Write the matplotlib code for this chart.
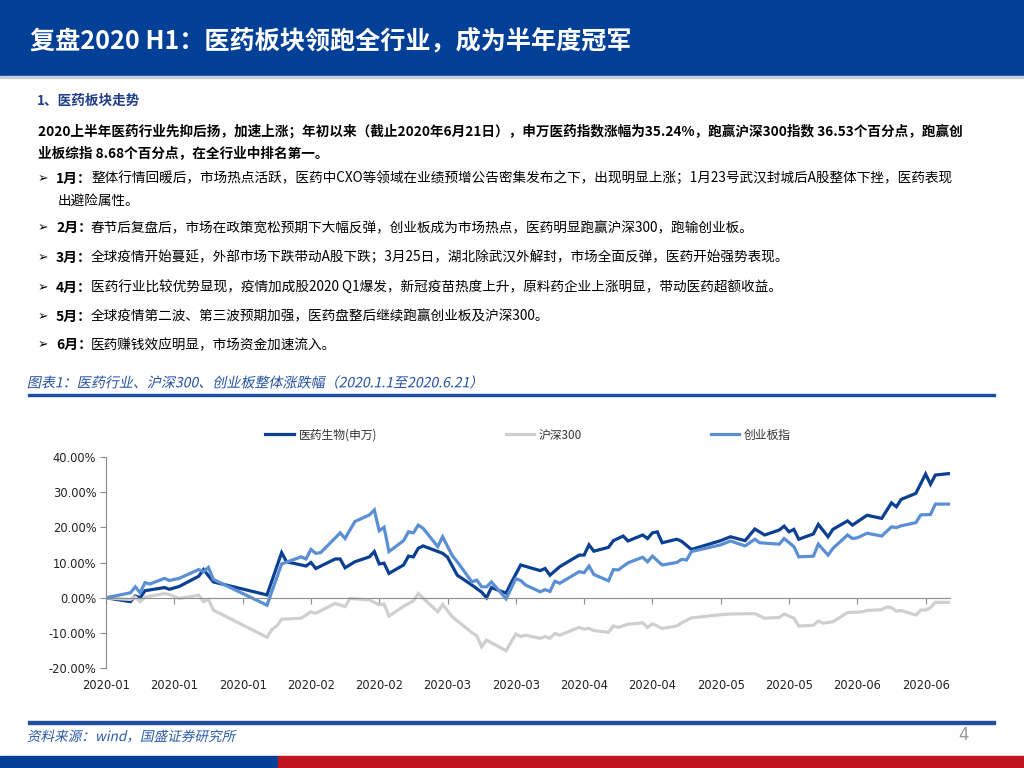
import matplotlib
matplotlib.use("Agg")
import matplotlib.pyplot as plt
import matplotlib.dates as mdates
from matplotlib.ticker import FuncFormatter, FixedLocator
from matplotlib.patches import Rectangle, PathPatch
from matplotlib.textpath import TextPath
from matplotlib.font_manager import FontProperties
from matplotlib.transforms import Affine2D
import pandas as pd

plt.rcParams['font.family'] = ['Noto Sans CJK SC', 'DejaVu Sans']

# ----------- DATA -----------
pharma_dates = ["2020-01-01", "2020-01-06", "2020-01-07", "2020-01-08", "2020-01-09", "2020-01-13",
                "2020-01-14", "2020-01-16", "2020-01-20", "2020-01-21", "2020-01-23", "2020-02-03",
                "2020-02-06", "2020-02-07", "2020-02-11", "2020-02-12", "2020-02-13", "2020-02-17",
                "2020-02-18", "2020-02-19", "2020-02-21", "2020-02-24", "2020-02-25", "2020-02-26",
                "2020-02-27", "2020-02-28", "2020-03-02", "2020-03-03", "2020-03-04", "2020-03-05",
                "2020-03-06", "2020-03-10", "2020-03-11", "2020-03-13", "2020-03-16", "2020-03-18",
                "2020-03-19", "2020-03-20", "2020-03-23", "2020-03-24", "2020-03-26", "2020-03-30",
                "2020-03-31", "2020-04-01", "2020-04-03", "2020-04-07", "2020-04-08", "2020-04-09",
                "2020-04-10", "2020-04-13", "2020-04-14", "2020-04-16", "2020-04-17", "2020-04-20",
                "2020-04-21", "2020-04-22", "2020-04-23", "2020-04-24", "2020-04-27", "2020-04-28",
                "2020-04-30", "2020-05-06", "2020-05-08", "2020-05-11", "2020-05-13", "2020-05-15",
                "2020-05-18", "2020-05-19", "2020-05-20", "2020-05-21", "2020-05-22", "2020-05-25",
                "2020-05-26", "2020-05-28", "2020-05-29", "2020-06-01", "2020-06-02", "2020-06-05",
                "2020-06-08", "2020-06-10", "2020-06-11", "2020-06-12", "2020-06-15", "2020-06-17",
                "2020-06-18", "2020-06-19", "2020-06-22"]
pharma_vals = [0.0, -1.1, 0.5, 0.0, 2.0, 2.9,
               2.4, 3.2, 6.1, 8.0, 4.5, 0.8,
               12.8, 10.2, 9.0, 10.0, 8.3, 11.0,
               11.0, 8.5, 10.2, 11.6, 13.1, 9.6,
               9.8, 6.9, 9.3, 11.8, 11.6, 14.0,
               14.7, 12.6, 11.5, 6.4, 3.6, 1.6,
               0.0, 2.9, 1.3, 4.1, 9.3, 7.7,
               8.3, 6.4, 8.8, 12.1, 12.1, 15.0,
               13.2, 14.3, 16.2, 17.5, 16.1, 17.8,
               16.8, 18.4, 18.7, 15.6, 16.6, 16.0,
               13.7, 16.2, 17.3, 16.2, 19.5, 17.8,
               19.2, 20.3, 18.7, 19.4, 16.6, 18.1,
               20.8, 17.3, 19.4, 21.8, 20.6, 23.4,
               22.5, 26.9, 25.8, 27.9, 29.6, 35.1,
               32.2, 34.8, 35.24]

hs300_dates = ["2020-01-01", "2020-01-06", "2020-01-07", "2020-01-08", "2020-01-09", "2020-01-13",
               "2020-01-14", "2020-01-16", "2020-01-20", "2020-01-21", "2020-01-22", "2020-01-23",
               "2020-02-03", "2020-02-04", "2020-02-05", "2020-02-06", "2020-02-10", "2020-02-12",
               "2020-02-13", "2020-02-17", "2020-02-19", "2020-02-20", "2020-02-24", "2020-02-26",
               "2020-02-27", "2020-02-28", "2020-03-02", "2020-03-04", "2020-03-05", "2020-03-09",
               "2020-03-10", "2020-03-12", "2020-03-16", "2020-03-17", "2020-03-18", "2020-03-19",
               "2020-03-23", "2020-03-25", "2020-03-26", "2020-03-27", "2020-03-30", "2020-03-31",
               "2020-04-01", "2020-04-02", "2020-04-03", "2020-04-07", "2020-04-08", "2020-04-09",
               "2020-04-10", "2020-04-13", "2020-04-14", "2020-04-15", "2020-04-17", "2020-04-20",
               "2020-04-21", "2020-04-22", "2020-04-24", "2020-04-27", "2020-04-28", "2020-04-30",
               "2020-05-06", "2020-05-08", "2020-05-13", "2020-05-15", "2020-05-18", "2020-05-19",
               "2020-05-21", "2020-05-22", "2020-05-25", "2020-05-26", "2020-05-27", "2020-05-29",
               "2020-06-01", "2020-06-04", "2020-06-05", "2020-06-08", "2020-06-09", "2020-06-10",
               "2020-06-11", "2020-06-12", "2020-06-15", "2020-06-16", "2020-06-17", "2020-06-18",
               "2020-06-19", "2020-06-22"]
hs300_vals = [0.0, -0.5, 0.2, -1.1, 0.2, 1.2,
              0.9, -0.2, 0.7, -1.1, -0.5, -3.5,
              -11.2, -9.0, -8.0, -6.1, -5.8, -4.0,
              -4.4, -1.6, -2.5, -0.2, -0.6, -2.0,
              -1.8, -5.2, -2.4, -0.9, 1.2, -4.0,
              -1.9, -5.4, -9.9, -10.8, -13.9, -12.0,
              -15.0, -10.3, -11.0, -10.6, -11.5, -11.0,
              -11.5, -10.1, -10.6, -8.4, -8.9, -8.7,
              -9.3, -9.8, -8.0, -8.4, -7.5, -7.1,
              -8.4, -7.4, -8.7, -8.0, -7.1, -5.7,
              -4.8, -4.6, -4.5, -5.8, -5.6, -4.6,
              -5.8, -8.0, -7.8, -6.6, -7.2, -6.8,
              -4.2, -4.0, -3.6, -3.4, -2.6, -2.8,
              -3.8, -3.6, -4.9, -3.5, -3.5, -2.8,
              -1.3, -1.29]

cyb_dates = ["2020-01-01", "2020-01-06", "2020-01-07", "2020-01-08", "2020-01-09", "2020-01-10",
             "2020-01-13", "2020-01-14", "2020-01-16", "2020-01-20", "2020-01-21", "2020-01-22",
             "2020-01-23", "2020-02-03", "2020-02-06", "2020-02-10", "2020-02-11", "2020-02-12",
             "2020-02-13", "2020-02-14", "2020-02-18", "2020-02-19", "2020-02-21", "2020-02-24",
             "2020-02-25", "2020-02-26", "2020-02-27", "2020-02-28", "2020-03-02", "2020-03-03",
             "2020-03-04", "2020-03-05", "2020-03-06", "2020-03-09", "2020-03-10", "2020-03-12",
             "2020-03-13", "2020-03-16", "2020-03-17", "2020-03-18", "2020-03-19", "2020-03-20",
             "2020-03-23", "2020-03-25", "2020-03-26", "2020-03-27", "2020-03-30", "2020-03-31",
             "2020-04-01", "2020-04-02", "2020-04-03", "2020-04-07", "2020-04-08", "2020-04-09",
             "2020-04-10", "2020-04-13", "2020-04-14", "2020-04-15", "2020-04-17", "2020-04-20",
             "2020-04-21", "2020-04-22", "2020-04-24", "2020-04-27", "2020-04-28", "2020-04-29",
             "2020-04-30", "2020-05-06", "2020-05-08", "2020-05-11", "2020-05-13", "2020-05-14",
             "2020-05-18", "2020-05-19", "2020-05-21", "2020-05-22", "2020-05-25", "2020-05-26",
             "2020-05-28", "2020-05-29", "2020-06-01", "2020-06-02", "2020-06-03", "2020-06-05",
             "2020-06-08", "2020-06-10", "2020-06-11", "2020-06-12", "2020-06-15", "2020-06-16",
             "2020-06-18", "2020-06-19", "2020-06-22"]
cyb_vals = [0.0, 1.4, 3.1, 1.4, 4.3, 3.9,
            5.5, 4.9, 5.5, 8.0, 7.4, 8.6,
            5.2, -2.1, 9.6, 11.6, 11.0, 13.7,
            12.6, 12.8, 18.4, 16.8, 21.6, 23.5,
            24.9, 19.0, 20.0, 13.1, 16.2, 18.7,
            18.4, 20.6, 19.7, 14.5, 17.3, 11.9,
            10.2, 4.5, 5.0, 3.1, 3.1, 4.5,
            -0.3, 5.4, 4.9, 3.6, 1.7, 2.3,
            1.8, 4.7, 4.1, 7.4, 7.1, 9.0,
            6.6, 4.8, 8.0, 7.9, 9.9, 11.5,
            10.2, 11.8, 9.3, 10.0, 10.9, 10.7,
            13.1, 15.0, 16.1, 14.7, 16.6, 15.6,
            15.2, 16.8, 14.5, 11.6, 11.8, 15.2,
            12.1, 14.0, 17.8, 16.8, 17.0, 18.3,
            17.5, 20.1, 19.9, 20.4, 21.3, 23.5,
            23.6, 26.56, 26.56]

series_names = ["医药生物(申万)", "沪深300", "创业板指"]

title = "复盘2020 H1：医药板块领跑全行业，成为半年度冠军"
section = "1、医药板块走势"
para_lines = ["2020上半年医药行业先抑后扬，加速上涨；年初以来（截止2020年6月21日），申万医药指数涨幅为35.24%，跑赢沪深300指数 36.53个百分点，跑赢创",
              "业板综指 8.68个百分点，在全行业中排名第一。"]
bullet_heads = ["1月：", "2月：", "3月：", "4月：", "5月：", "6月："]
bullet_texts = ["整体行情回暖后，市场热点活跃，医药中CXO等领域在业绩预增公告密集发布之下，出现明显上涨；1月23号武汉封城后A股整体下挫，医药表现",
                "春节后复盘后，市场在政策宽松预期下大幅反弹，创业板成为市场热点，医药明显跑赢沪深300，跑输创业板。",
                "全球疫情开始蔓延，外部市场下跌带动A股下跌；3月25日，湖北除武汉外解封，市场全面反弹，医药开始强势表现。",
                "医药行业比较优势显现，疫情加成股2020 Q1爆发，新冠疫苗热度上升，原料药企业上涨明显，带动医药超额收益。",
                "全球疫情第二波、第三波预期加强，医药盘整后继续跑赢创业板及沪深300。",
                "医药赚钱效应明显，市场资金加速流入。"]
bullet_cont = "出避险属性。"
caption = "图表1：医药行业、沪深300、创业板整体涨跌幅（2020.1.1至2020.6.21）"
source = "资料来源：wind，国盛证券研究所"

W, H = 1024, 768
NAVY = "#023F97"
LINE_BLUE = "#1F4E9F"


def px(x, y):
    return x / W, 1 - y / H


fig = plt.figure(figsize=(W / 100, H / 100), dpi=100)


def slanted_text(x, y, s, size, color):
    # fake italic: CJK font has no italic face, so shear the glyph outlines
    tp = TextPath((0, 0), s, prop=FontProperties(family="Noto Sans CJK SC", size=size))
    bb = tp.get_extents()
    tr = (Affine2D().translate(0, -(bb.y0 + bb.y1) / 2).skew_deg(12, 0)
          .scale(fig.dpi / 72).translate(x, H - y))
    fig.patches.append(PathPatch(tp, transform=tr, facecolor=color, lw=0))


# ----------- HEADER / FOOTER BANDS -----------
fig.patches.append(Rectangle(px(0, 76), 1, 76 / H, transform=fig.transFigure, color=NAVY, zorder=0))
fig.patches.append(Rectangle(px(0, 78), 1, 2 / H, transform=fig.transFigure, color="#C9CDD6", zorder=0))
fig.patches.append(Rectangle(px(0, 768), 278 / W, 12.5 / H, transform=fig.transFigure, color=NAVY, zorder=0))
fig.patches.append(Rectangle(px(278, 768), 1 - 278 / W, 12.5 / H, transform=fig.transFigure, color="#BE151E", zorder=0))
fig.patches.append(Rectangle(px(28, 396), 967 / W, 2.5 / H, transform=fig.transFigure, color=LINE_BLUE, zorder=0))
fig.patches.append(Rectangle(px(28, 724), 967 / W, 3.5 / H, transform=fig.transFigure, color=LINE_BLUE, zorder=0))

fig.text(*px(30, 42), title, color="white", fontsize=18.1, fontweight="bold", va="center")
fig.text(*px(37, 101), section, color="#1F3D8A", fontsize=9.8, fontweight="bold", va="center")
for i, line in enumerate(para_lines):
    fig.text(*px(38, 131 + 22 * i), line, color="black", fontsize=9.8, fontweight="bold", va="center")

bullet_y = [178.5, 228, 257.5, 287.5, 316.5, 345]
for y, head, txt in zip(bullet_y, bullet_heads, bullet_texts):
    fig.text(*px(38, y), "➢", color="black", fontsize=9, va="center", family=["DejaVu Sans"])
    fig.text(*px(56, y), head, color="black", fontsize=10, fontweight="bold", va="center")
    fig.text(*px(91, y), txt, color="black", fontsize=9.8, va="center")
fig.text(*px(58, 201), bullet_cont, color="black", fontsize=9.8, va="center")

slanted_text(28, 382, caption, 10.1, "#2352A3")
slanted_text(28, 736, source, 9.8, "#2A5BAA")
fig.text(*px(958, 735), "4", color="#9A9A9A", fontsize=12, va="center", family=["DejaVu Sans"])

# ----------- CHART -----------
ax = fig.add_axes([106 / W, 1 - 668.3 / H, 844 / W, 211.6 / H])
colors = ["#0A3F91", "#CFCFCF", "#5A8FD3"]
for dates, vals, name, c in zip([pharma_dates, hs300_dates, cyb_dates],
                                [pharma_vals, hs300_vals, cyb_vals], series_names, colors):
    ax.plot(pd.to_datetime(dates), vals, color=c, lw=2.3, label=name, solid_joinstyle="miter")

ax.set_ylim(-20, 40)
ax.set_yticks([-20, -10, 0, 10, 20, 30, 40])
ax.yaxis.set_major_formatter(FuncFormatter(lambda v, p: f"{v:.2f}%"))
ax.set_xlim(pd.Timestamp("2020-01-01"), pd.Timestamp("2020-06-22"))
xticks = pd.date_range("2020-01-01", periods=13, freq="14D")
ax.xaxis.set_major_locator(FixedLocator(mdates.date2num(xticks)))
ax.tick_params(axis="x", direction="out", length=4, color="#8C8C8C", labelbottom=False)
ax.tick_params(axis="y", direction="out", length=4, color="#8C8C8C", labelsize=8.3,
               labelcolor="#222222", pad=3)
for lab in ax.get_yticklabels():
    lab.set_family("DejaVu Sans")
for d in xticks:
    ax.annotate(d.strftime("%Y-%m"), (mdates.date2num(d), -20), xytext=(0, -8),
                textcoords="offset points", ha="center", va="top", fontsize=8.3,
                color="#222222", family="DejaVu Sans", annotation_clip=False)

for s in ["top", "right"]:
    ax.spines[s].set_visible(False)
ax.spines["left"].set_color("#8C8C8C")
ax.spines["bottom"].set_color("#8C8C8C")
ax.spines["bottom"].set_position(("data", 0))
ax.patch.set_alpha(0)

fig.legend(loc="center", bbox_to_anchor=(528 / W, 1 - 435 / H), ncol=3, frameon=False,
           fontsize=8.5, handlelength=2.4, columnspacing=10.9, handletextpad=0.4,
           labelcolor="#333333")

fig.savefig("out.png", dpi=100)
